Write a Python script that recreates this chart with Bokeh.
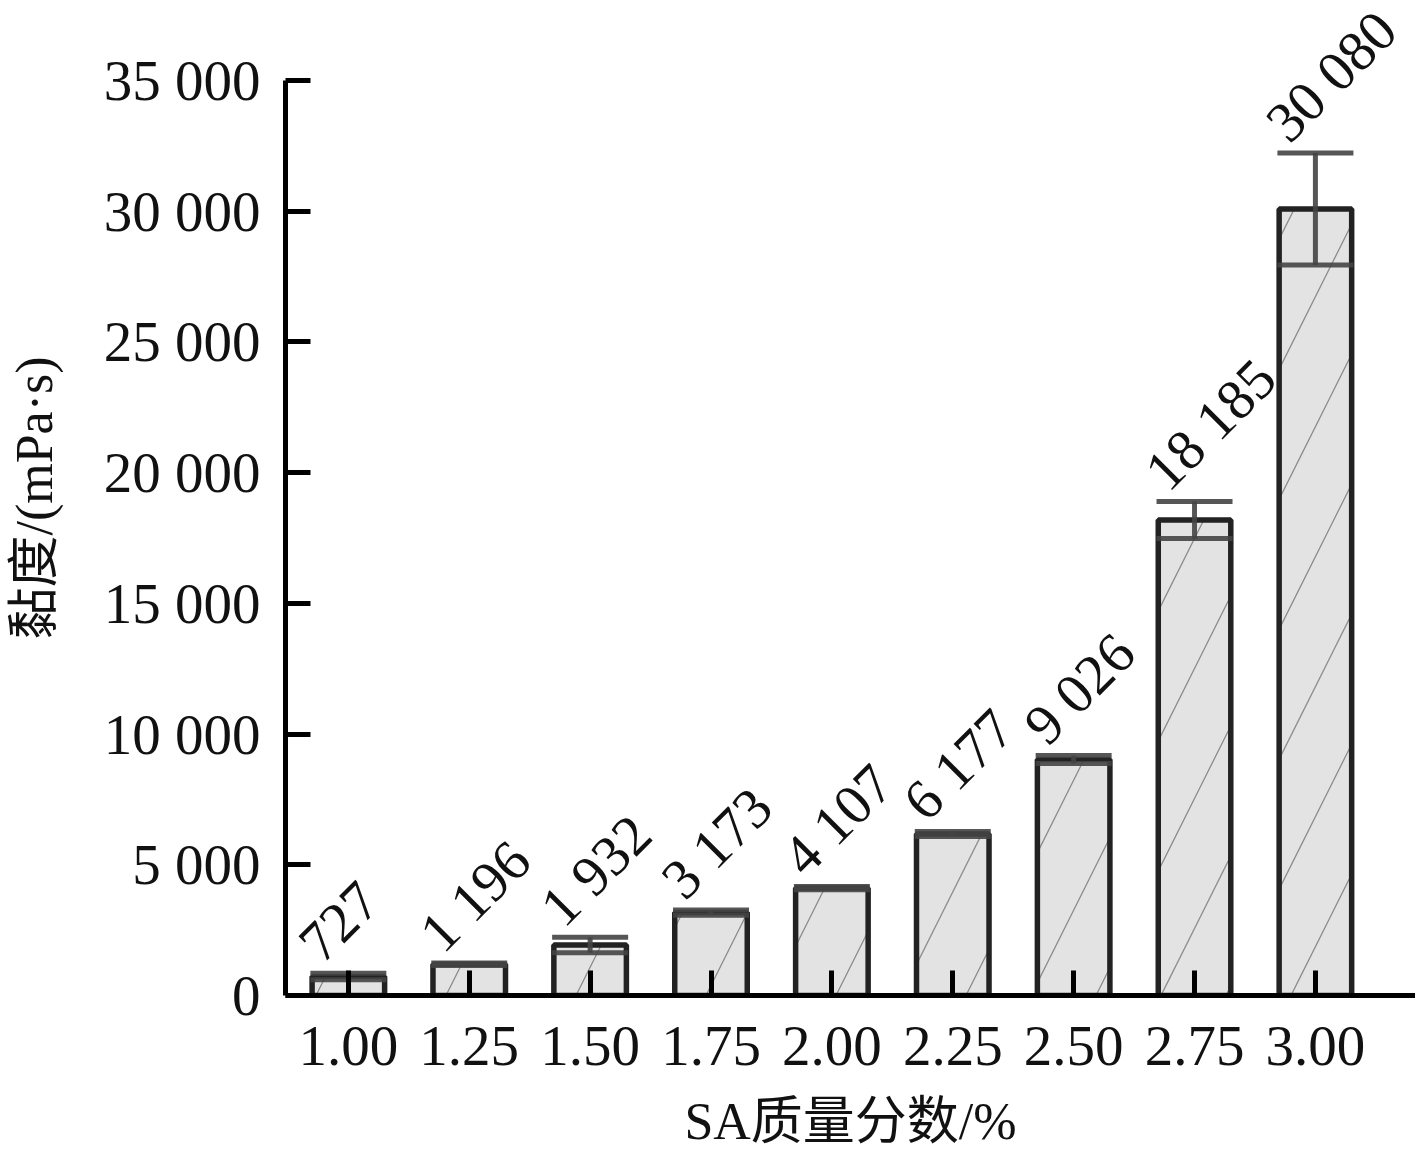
from bokeh.plotting import figure
from bokeh.models import (ColumnDataSource, Range1d, FixedTicker, NumeralTickFormatter,
                          CustomJSTickFormatter, Whisker, TeeHead, LabelSet)
from bokeh.embed import file_html
from bokeh.resources import INLINE

# ---- data ----
sa_fraction = [1.00, 1.25, 1.50, 1.75, 2.00, 2.25, 2.50, 2.75, 3.00]
viscosity = [727, 1196, 1932, 3173, 4107, 6177, 9026, 18185, 30080]
viscosity_err = [120, 50, 300, 100, 60, 100, 150, 710, 2140]
y_ticks = [0, 5000, 10000, 15000, 20000, 25000, 30000, 35000]

def fmt(v):
    return f"{v:,}".replace(",", " ")

labels = [fmt(v) for v in viscosity]
upper = [v + e for v, e in zip(viscosity, viscosity_err)]
lower = [v - e for v, e in zip(viscosity, viscosity_err)]

src = ColumnDataSource(dict(x=sa_fraction, top=viscosity, upper=upper, lower=lower, label=labels))

FONT = "'Liberation Serif', 'Noto Sans CJK SC'"
INK = "#111111"

p = figure(width=1415, height=1152, output_backend="svg", toolbar_location=None,
           x_range=Range1d(0.87, 3.207), y_range=Range1d(0, 38057),
           min_border_left=285, min_border_right=0, min_border_top=0, min_border_bottom=156)
p.outline_line_color = None
p.xgrid.visible = False
p.ygrid.visible = False

p.vbar(x="x", top="top", bottom=0, width=0.15, source=src,
       fill_color="#e3e3e3", line_color="#222222", line_width=5.5,
       hatch_pattern="/", hatch_scale=130, hatch_color="#8a8a8a", hatch_weight=1.3)

w = Whisker(base="x", upper="upper", lower="lower", source=src,
            line_color="#444444", line_width=5, line_alpha=0.9, level="glyph",
            upper_head=TeeHead(size=76, line_color="#444444", line_width=5, line_alpha=0.9),
            lower_head=TeeHead(size=76, line_color="#444444", line_width=5, line_alpha=0.9))
p.add_layout(w)

ls = LabelSet(x="x", y="upper", text="label", source=src, angle=45, angle_units="deg",
              x_offset=-26, y_offset=8, text_align="left", text_baseline="alphabetic",
              text_font=FONT, text_font_size="57px", text_color=INK)
p.add_layout(ls)

for ax in (p.xaxis[0], p.yaxis[0]):
    ax.axis_line_width = 5
    ax.axis_line_color = "black"
    ax.major_tick_line_width = 5
    ax.major_tick_line_color = "black"
    ax.major_tick_in = 25
    ax.major_tick_out = 0
    ax.minor_tick_line_color = None
    ax.major_label_text_font = FONT
    ax.major_label_text_font_size = "57px"
    ax.major_label_text_color = INK
    ax.axis_label_text_font = FONT
    ax.axis_label_text_font_size = "52px"
    ax.axis_label_text_font_style = "normal"
    ax.axis_label_text_color = INK

p.xaxis.ticker = FixedTicker(ticks=sa_fraction)
p.xaxis.formatter = NumeralTickFormatter(format="0.00")
p.xaxis.major_label_standoff = 31
p.xaxis.axis_label = "SA质量分数/%"
p.xaxis.axis_label_standoff = 25

p.yaxis.bounds = (0, 35000)
p.yaxis.ticker = FixedTicker(ticks=y_ticks)
p.yaxis.formatter = CustomJSTickFormatter(code="return String(tick).replace(/\\B(?=(\\d{3})+(?!\\d))/g, ' ');")
p.yaxis.major_label_standoff = 25
p.yaxis.axis_label = "黏度/(mPa·s)"
p.yaxis.axis_label_standoff = 38

open("out.html", "w").write(file_html(p, INLINE))
